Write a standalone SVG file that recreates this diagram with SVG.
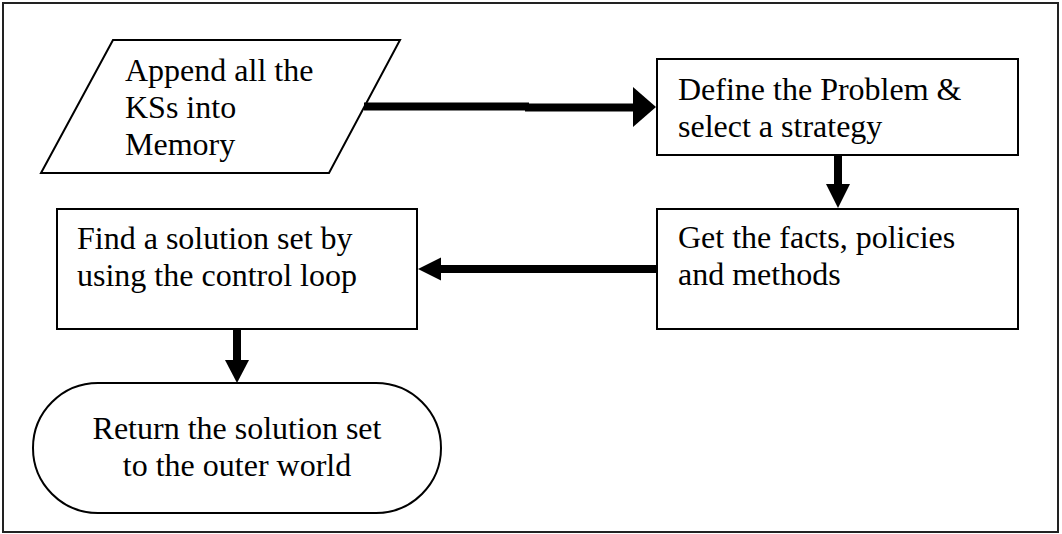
<svg xmlns="http://www.w3.org/2000/svg" width="1062" height="534" viewBox="0 0 1062 534">
  <style>
    .shape { fill: #ffffff; stroke: #000000; stroke-width: 2; }
    .label { font-family: "Liberation Serif", "Times New Roman", serif; font-size: 32px; fill: #000000; }
    .mid { text-anchor: middle; }
    .flow { stroke: #000000; stroke-width: 8; fill: none; }
    .head { fill: #000000; stroke: none; }
  </style>

  <!-- outer frame -->
  <rect x="3" y="3" width="1055" height="529" fill="#ffffff" stroke="#222222" stroke-width="2"/>

  <!-- input: append KSs -->
  <g id="append">
    <polygon class="shape" points="113,40 400,40 329,173 41,173"/>
    <text class="label" x="125" y="81">Append all the</text>
    <text class="label" x="125" y="118">KSs into</text>
    <text class="label" x="125" y="155">Memory</text>
  </g>

  <!-- process: define problem -->
  <g id="define">
    <rect class="shape" x="657" y="59" width="361" height="96"/>
    <text class="label" x="678" y="100">Define the Problem &amp;</text>
    <text class="label" x="678" y="137">select a strategy</text>
  </g>

  <!-- process: get facts -->
  <g id="facts">
    <rect class="shape" x="657" y="209" width="361" height="120"/>
    <text class="label" x="678" y="248">Get the facts, policies</text>
    <text class="label" x="678" y="285">and methods</text>
  </g>

  <!-- process: find solution -->
  <g id="solve">
    <rect class="shape" x="57" y="209" width="360" height="120"/>
    <text class="label" x="77" y="249">Find a solution set by</text>
    <text class="label" x="77" y="286">using the control loop</text>
  </g>

  <!-- terminator: return -->
  <g id="return">
    <rect class="shape" x="33" y="383" width="408" height="130" rx="65" ry="65"/>
    <text class="label mid" x="237" y="439">Return the solution set</text>
    <text class="label mid" x="237" y="476">to the outer world</text>
  </g>

  <!-- connectors -->
  <g id="connectors">
    <!-- append -> define -->
    <path class="flow" d="M364,106.5 H529 M525,107.5 H634"/>
    <polygon class="head" points="633,87 656,107 633,127"/>
    <!-- define -> facts -->
    <path class="flow" d="M838,155 V185"/>
    <polygon class="head" points="826,184 850,184 838,208"/>
    <!-- facts -> solve -->
    <path class="flow" d="M657,269 H440"/>
    <polygon class="head" points="441,257.5 441,280.5 418,269"/>
    <!-- solve -> return -->
    <path class="flow" d="M237,329 V361"/>
    <polygon class="head" points="225,360 249,360 237,383"/>
  </g>
</svg>
